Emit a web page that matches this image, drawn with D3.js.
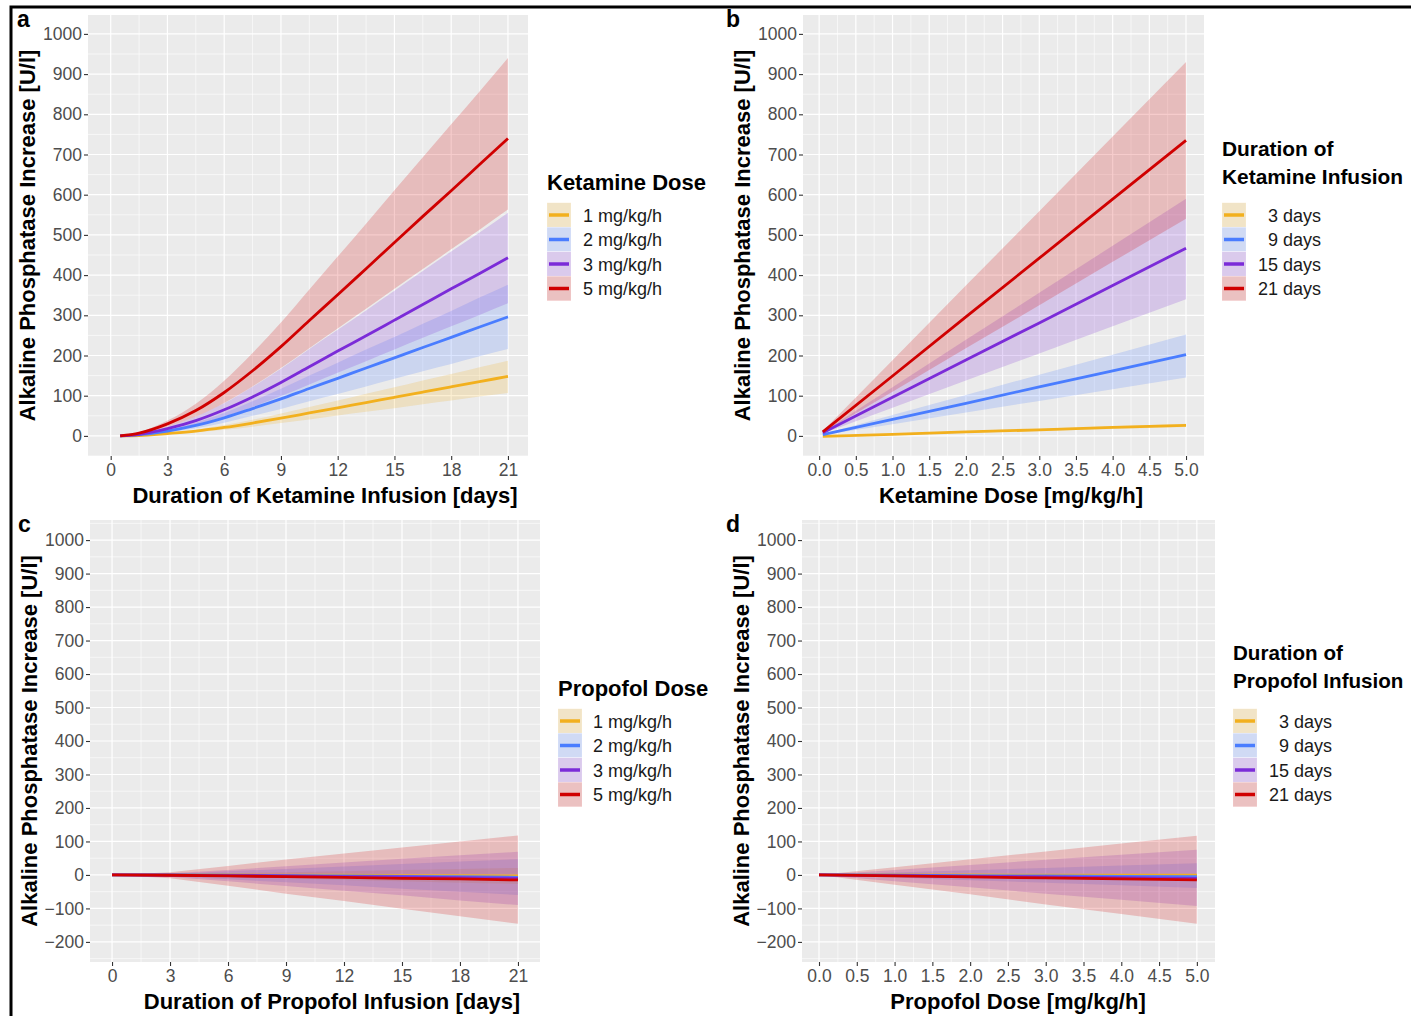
<!DOCTYPE html>
<html>
<head>
<meta charset="utf-8">
<script src="https://cdn.jsdelivr.net/npm/d3@7"></script>
<style>
  body { margin: 0; background: #fff; }
  svg { display: block; font-family: "Liberation Sans", Arial, sans-serif; }
</style>
</head>
<body>
<svg id="grafico" width="1411" height="1016"></svg>
<script>
// Colores de las series (1, 2, 3, 5 mg/kg/h  o  3, 9, 15, 21 dias)
var colores = ["#F2B01E", "#4A7DFF", "#7B2BD8", "#D00000"];
var etiquetasDosis = ["1 mg/kg/h", "2 mg/kg/h", "3 mg/kg/h", "5 mg/kg/h"];
var etiquetasDias = ["3 days", "9 days", "15 days", "21 days"];

// Ticks de los ejes
var ticksDias = [0, 3, 6, 9, 12, 15, 18, 21];
var ticksDosis = [0, 0.5, 1, 1.5, 2, 2.5, 3, 3.5, 4, 4.5, 5];
var ticksYKet = [0, 100, 200, 300, 400, 500, 600, 700, 800, 900, 1000];
var ticksYProp = [-200, -100, 0, 100, 200, 300, 400, 500, 600, 700, 800, 900, 1000];

// --- Panel a: ketamina, eje x = dias ---
var diasA = [0.5, 1.5, 3, 4.5, 6, 7.5, 9, 10.5, 12, 13.5, 15, 16.5, 18, 19.5, 21];
var ketDiasMedia = [
  [0, 1, 6, 12, 21, 32, 44, 57, 70, 83, 96, 109, 122, 135, 148],
  [0, 3, 12, 26, 45, 68, 92, 118, 143, 169, 194, 220, 245, 271, 296],
  [0, 4, 18, 38, 65, 97, 133, 172, 211, 249, 288, 327, 366, 404, 443],
  [0, 7, 30, 63, 108, 162, 222, 287, 351, 416, 481, 546, 610, 675, 740]
];
var ketDiasInf = [
  [0, 1, 4, 9, 15, 23, 32, 41, 51, 60, 69, 79, 88, 98, 107],
  [0, 2, 9, 19, 33, 50, 67, 86, 104, 123, 142, 161, 179, 198, 216],
  [0, 3, 13, 28, 48, 72, 99, 128, 157, 186, 215, 244, 273, 301, 330],
  [0, 5, 23, 48, 82, 123, 169, 218, 267, 316, 366, 415, 464, 513, 563]
];
var ketDiasSup = [
  [0, 1, 8, 15, 27, 40, 56, 72, 88, 105, 121, 138, 154, 171, 187],
  [0, 4, 15, 33, 57, 86, 117, 150, 182, 215, 246, 279, 311, 344, 376],
  [0, 5, 23, 48, 81, 122, 167, 216, 264, 312, 361, 410, 459, 506, 555],
  [0, 9, 38, 80, 137, 206, 282, 364, 446, 528, 611, 693, 775, 857, 940]
];

// --- Panel b: ketamina, eje x = dosis ---
var dosisB = [0.05, 1, 2, 3, 4, 5];
var ketDosisMedia = [
  [-1, 4, 10, 15, 21, 26],
  [3, 41, 81, 122, 162, 202],
  [8, 96, 189, 281, 374, 467],
  [10, 149, 296, 442, 589, 735]
];
var ketDosisInf = [
  [-2, 3, 8, 12, 17, 22],
  [2, 29, 58, 87, 116, 145],
  [6, 70, 138, 205, 273, 340],
  [8, 110, 218, 325, 433, 540]
];
var ketDosisSup = [
  [0, 6, 12, 18, 24, 30],
  [4, 52, 102, 152, 202, 252],
  [10, 121, 239, 356, 473, 590],
  [12, 188, 374, 559, 745, 930]
];

// --- Panel c: propofol, eje x = dias ---
var diasC = [0, 3, 6, 9, 12, 15, 18, 21];
var propDiasMedia = [
  [0, 0, 0, -1, -1, -2, -2, -3],
  [0, 0, -1, -2, -3, -4, -5, -7],
  [0, -1, -2, -3, -5, -6, -8, -10],
  [0, -1, -3, -5, -7, -10, -12, -15]
];
var propDiasInf = [
  [0, -2, -6, -10, -15, -19, -23, -27],
  [0, -4, -13, -22, -31, -41, -50, -60],
  [0, -6, -19, -33, -47, -61, -76, -90],
  [0, -10, -32, -56, -78, -101, -123, -146]
];
var propDiasSup = [
  [0, 1, 5, 8, 11, 15, 18, 21],
  [0, 3, 11, 18, 25, 33, 40, 47],
  [0, 5, 15, 26, 37, 48, 59, 69],
  [0, 8, 27, 46, 64, 82, 100, 118]
];

// --- Panel d: propofol, eje x = dosis ---
var dosisD = [0, 1, 2, 3, 4, 5];
var propDosisMedia = [
  [0, 0, 0, -1, -1, -1],
  [0, -1, -2, -3, -4, -5],
  [0, -2, -4, -6, -8, -10],
  [0, -3, -6, -9, -12, -15]
];
var propDosisInf = [
  [0, -1, -2, -3, -4, -5],
  [0, -8, -16, -23, -31, -39],
  [0, -19, -37, -56, -74, -93],
  [0, -29, -58, -88, -117, -146]
];
var propDosisSup = [
  [0, 1, 1, 2, 2, 3],
  [0, 7, 14, 21, 28, 35],
  [0, 15, 30, 45, 60, 75],
  [0, 23, 47, 70, 94, 117]
];

var svg = d3.select("#grafico");
var tituloY = "Alkaline Phosphatase Increase [U/l]";

// borde negro (arriba e izquierda)
svg.append("path")
  .attr("d", "M11,1016 L11,7 L1411,7")
  .attr("fill", "none")
  .attr("stroke", "#000")
  .attr("stroke-width", 3);

function dibujarPanel(p) {
  var g = svg.append("g");
  var x = d3.scaleLinear().domain(p.xDom).range([p.x0, p.x1]);
  var y = d3.scaleLinear().domain(p.yDom).range([p.y1, p.y0]);

  g.append("rect")
    .attr("x", p.x0).attr("y", p.y0)
    .attr("width", p.x1 - p.x0).attr("height", p.y1 - p.y0)
    .attr("fill", "#EBEBEB");

  // rejilla menor: puntos medios entre ticks
  var pasoX = p.xTicks[1] - p.xTicks[0];
  var pasoY = p.yTicks[1] - p.yTicks[0];
  var menX = d3.range(p.xTicks[0] - pasoX / 2, p.xTicks[p.xTicks.length - 1] + pasoX, pasoX)
    .filter(function (v) { return v >= p.xDom[0] && v <= p.xDom[1]; });
  var menY = d3.range(p.yTicks[0] - pasoY / 2, p.yTicks[p.yTicks.length - 1] + pasoY, pasoY)
    .filter(function (v) { return v >= p.yDom[0] && v <= p.yDom[1]; });

  g.selectAll(".menx").data(menX).enter().append("line")
    .attr("x1", x).attr("x2", x).attr("y1", p.y0).attr("y2", p.y1)
    .attr("stroke", "#fff").attr("stroke-width", 0.6);
  g.selectAll(".meny").data(menY).enter().append("line")
    .attr("y1", y).attr("y2", y).attr("x1", p.x0).attr("x2", p.x1)
    .attr("stroke", "#fff").attr("stroke-width", 0.6);
  g.selectAll(".majx").data(p.xTicks).enter().append("line")
    .attr("x1", x).attr("x2", x).attr("y1", p.y0).attr("y2", p.y1)
    .attr("stroke", "#fff").attr("stroke-width", 1.2);
  g.selectAll(".majy").data(p.yTicks).enter().append("line")
    .attr("y1", y).attr("y2", y).attr("x1", p.x0).attr("x2", p.x1)
    .attr("stroke", "#fff").attr("stroke-width", 1.2);

  var curva = p.suave ? d3.curveMonotoneX : d3.curveLinear;

  // bandas de confianza
  for (var s = 0; s < 4; s++) {
    var filas = p.xs.map(function (v, i) { return { x: v, lo: p.inf[s][i], hi: p.sup[s][i] }; });
    g.append("path")
      .datum(filas)
      .attr("fill", colores[s])
      .attr("fill-opacity", 0.2)
      .attr("d", d3.area().curve(curva)
        .x(function (d) { return x(d.x); })
        .y0(function (d) { return y(d.lo); })
        .y1(function (d) { return y(d.hi); }));
  }
  // lineas
  for (var s = 0; s < 4; s++) {
    var pts = p.xs.map(function (v, i) { return { x: v, y: p.media[s][i] }; });
    g.append("path")
      .datum(pts)
      .attr("fill", "none")
      .attr("stroke", colores[s])
      .attr("stroke-width", 2.8)
      .attr("d", d3.line().curve(curva)
        .x(function (d) { return x(d.x); })
        .y(function (d) { return y(d.y); }));
  }

  // ejes
  var ejeX = g.append("g").attr("transform", "translate(0," + p.y1 + ")")
    .call(d3.axisBottom(x).tickValues(p.xTicks).tickSize(4).tickPadding(4).tickFormat(p.xFmt));
  var ejeY = g.append("g").attr("transform", "translate(" + p.x0 + ",0)")
    .call(d3.axisLeft(y).tickValues(p.yTicks).tickSize(4).tickPadding(2).tickFormat(d3.format("d")));
  [ejeX, ejeY].forEach(function (e) {
    e.select(".domain").remove();
    e.selectAll(".tick line").attr("stroke", "#333").attr("stroke-width", 1.1);
    e.selectAll(".tick text")
      .attr("fill", "#4D4D4D")
      .style("font-size", "17.5px")
      .style("font-family", "\"Liberation Sans\", Arial, sans-serif");
  });

  // titulos
  g.append("text")
    .attr("x", p.tituloXx).attr("y", p.y1 + 47)
    .attr("text-anchor", "middle")
    .style("font-size", "22px").style("font-weight", "bold")
    .text(p.tituloX);
  g.append("text")
    .attr("transform", "translate(" + (p.x0 - 53) + "," + ((p.y0 + p.y1) / 2) + ") rotate(-90)")
    .attr("text-anchor", "middle")
    .style("font-size", "22px").style("font-weight", "bold")
    .text(tituloY);
  g.append("text")
    .attr("x", p.letraX).attr("y", p.y0 + 12)
    .style("font-size", "23px").style("font-weight", "bold")
    .text(p.letra);

  // leyenda
  var L = p.leyenda;
  var titulos = L.titulo.map(function (t, i) {
    return g.append("text")
      .attr("x", L.x).attr("y", L.yTitulo + i * 28)
      .style("font-size", "22px").style("font-weight", "bold")
      .text(t);
  });
  // si el titulo no cabe antes del borde derecho, reducir un poco la letra
  var maxAncho = d3.max(titulos, function (t) { return t.node().getComputedTextLength(); });
  if (L.x + maxAncho > 1404) {
    var tam = Math.floor(22 * (1404 - L.x) / maxAncho * 10) / 10;
    titulos.forEach(function (t) { t.style("font-size", tam + "px"); });
  }
  L.etiquetas.forEach(function (t, i) {
    var yc = L.yFila + i * 24.5;
    g.append("rect")
      .attr("x", L.x).attr("y", yc - 12.25)
      .attr("width", 24).attr("height", 24.5)
      .attr("fill", "#F2F2F2").attr("stroke", "#fff").attr("stroke-width", 0.6);
    g.append("rect")
      .attr("x", L.x).attr("y", yc - 12.25)
      .attr("width", 24).attr("height", 24.5)
      .attr("fill", colores[i]).attr("fill-opacity", 0.2);
    g.append("line")
      .attr("x1", L.x + 2).attr("x2", L.x + 22)
      .attr("y1", yc).attr("y2", yc)
      .attr("stroke", colores[i]).attr("stroke-width", 3.5);
    g.append("text")
      .attr("x", L.xTexto).attr("y", yc + 6.5)
      .attr("text-anchor", L.anclaje)
      .attr("fill", "#1A1A1A")
      .style("font-size", "18px")
      .text(t);
  });
}

var fmtDias = d3.format("d");
var fmtDosis = d3.format(".1f");

dibujarPanel({
  letra: "a", letraX: 17,
  x0: 88, x1: 528, y0: 15, y1: 456,
  xDom: [-1.2, 22.06], yDom: [-50, 1047],
  xTicks: ticksDias, yTicks: ticksYKet, xFmt: fmtDias,
  xs: diasA, media: ketDiasMedia, inf: ketDiasInf, sup: ketDiasSup, suave: true,
  tituloX: "Duration of Ketamine Infusion [days]", tituloXx: 325,
  leyenda: { x: 547, yTitulo: 190, titulo: ["Ketamine Dose"], yFila: 215,
             etiquetas: etiquetasDosis, xTexto: 583, anclaje: "start" }
});

dibujarPanel({
  letra: "b", letraX: 726,
  x0: 803, x1: 1204, y0: 15, y1: 456,
  xDom: [-0.22, 5.245], yDom: [-50, 1047],
  xTicks: ticksDosis, yTicks: ticksYKet, xFmt: fmtDosis,
  xs: dosisB, media: ketDosisMedia, inf: ketDosisInf, sup: ketDosisSup, suave: false,
  tituloX: "Ketamine Dose [mg/kg/h]", tituloXx: 1011,
  leyenda: { x: 1222, yTitulo: 156, titulo: ["Duration of", "Ketamine Infusion"], yFila: 215,
             etiquetas: etiquetasDias, xTexto: 1321, anclaje: "end" }
});

dibujarPanel({
  letra: "c", letraX: 18,
  x0: 90, x1: 540, y0: 520, y1: 962,
  xDom: [-1.14, 22.14], yDom: [-260, 1060],
  xTicks: ticksDias, yTicks: ticksYProp, xFmt: fmtDias,
  xs: diasC, media: propDiasMedia, inf: propDiasInf, sup: propDiasSup, suave: false,
  tituloX: "Duration of Propofol Infusion [days]", tituloXx: 332,
  leyenda: { x: 558, yTitulo: 696, titulo: ["Propofol Dose"], yFila: 721,
             etiquetas: etiquetasDosis, xTexto: 593, anclaje: "start" }
});

dibujarPanel({
  letra: "d", letraX: 726,
  x0: 802, x1: 1215, y0: 520, y1: 962,
  xDom: [-0.225, 5.24], yDom: [-260, 1060],
  xTicks: ticksDosis, yTicks: ticksYProp, xFmt: fmtDosis,
  xs: dosisD, media: propDosisMedia, inf: propDosisInf, sup: propDosisSup, suave: false,
  tituloX: "Propofol Dose [mg/kg/h]", tituloXx: 1018,
  leyenda: { x: 1233, yTitulo: 660, titulo: ["Duration of", "Propofol Infusion"], yFila: 721,
             etiquetas: etiquetasDias, xTexto: 1332, anclaje: "end" }
});
</script>
</body>
</html>
